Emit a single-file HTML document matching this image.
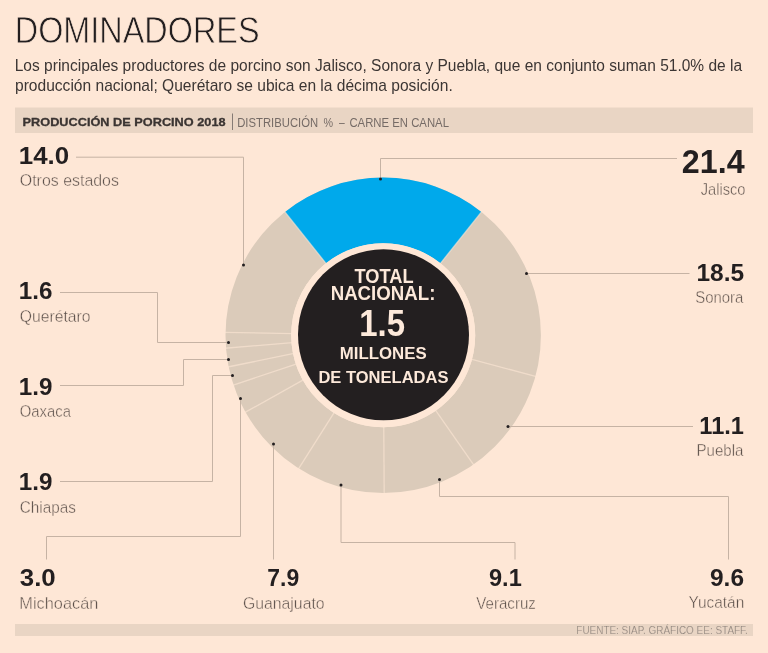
<!DOCTYPE html>
<html lang="es"><head><meta charset="utf-8"><title>Dominadores</title>
<style>
html,body{margin:0;padding:0;background:#fee7d6;}
body{width:768px;height:653px;overflow:hidden;}
svg{display:block;font-family:"Liberation Sans",sans-serif;}
</style></head><body>
<svg width="768" height="653" viewBox="0 0 768 653">
<rect width="768" height="653" fill="#fee7d6"/>
<circle cx="383.2" cy="335.3" r="124.85" fill="none" stroke="#dbcbba" stroke-width="65.69999999999999"/>
<path d="M284.99,211.92A157.7,157.7 0 0 1 481.41,211.92L440.50,263.32A92,92 0 0 0 325.90,263.32Z" fill="#00a9eb"/>
<line x1="326.53" y1="264.10" x2="284.36" y2="211.13" stroke="#fee7d6" stroke-width="1.3" stroke-opacity="0.6"/>
<line x1="439.87" y1="264.10" x2="482.04" y2="211.13" stroke="#fee7d6" stroke-width="1.3" stroke-opacity="0.6"/>
<line x1="471.05" y1="359.04" x2="536.41" y2="376.70" stroke="#fee7d6" stroke-width="1.3" stroke-opacity="0.6"/>
<line x1="435.29" y1="409.92" x2="474.04" y2="465.43" stroke="#fee7d6" stroke-width="1.3" stroke-opacity="0.6"/>
<line x1="383.77" y1="426.30" x2="384.20" y2="494.00" stroke="#fee7d6" stroke-width="1.3" stroke-opacity="0.6"/>
<line x1="334.44" y1="412.13" x2="298.16" y2="469.29" stroke="#fee7d6" stroke-width="1.3" stroke-opacity="0.6"/>
<line x1="303.73" y1="379.64" x2="244.61" y2="412.63" stroke="#fee7d6" stroke-width="1.3" stroke-opacity="0.6"/>
<line x1="296.83" y1="363.96" x2="232.58" y2="385.29" stroke="#fee7d6" stroke-width="1.3" stroke-opacity="0.6"/>
<line x1="294.03" y1="353.47" x2="227.70" y2="366.99" stroke="#fee7d6" stroke-width="1.3" stroke-opacity="0.6"/>
<line x1="292.50" y1="342.72" x2="225.03" y2="348.25" stroke="#fee7d6" stroke-width="1.3" stroke-opacity="0.6"/>
<line x1="292.22" y1="333.58" x2="224.53" y2="332.31" stroke="#fee7d6" stroke-width="1.3" stroke-opacity="0.6"/>
<circle cx="383.2" cy="335.3" r="92" fill="#fee7d6"/>
<circle cx="383.5" cy="334.8" r="85.5" fill="#231f20"/>
<path d="M380.5,179L380.5,158.5L677,158.5" fill="none" stroke="#c6b3a4" stroke-width="1"/>
<circle cx="380.5" cy="179" r="1.5" fill="#231f20"/>
<path d="M526.5,273.5L689.5,273.5" fill="none" stroke="#c6b3a4" stroke-width="1"/>
<circle cx="526.5" cy="273.5" r="1.5" fill="#231f20"/>
<path d="M508,426.5L693,426.5" fill="none" stroke="#c6b3a4" stroke-width="1"/>
<circle cx="508" cy="426.5" r="1.5" fill="#231f20"/>
<path d="M439.5,479.5L439.5,496.5L728.5,496.5L728.5,559.5" fill="none" stroke="#c6b3a4" stroke-width="1"/>
<circle cx="439.5" cy="479.5" r="1.5" fill="#231f20"/>
<path d="M341,485L341,542.5L515,542.5L515,559.5" fill="none" stroke="#c6b3a4" stroke-width="1"/>
<circle cx="341" cy="485" r="1.5" fill="#231f20"/>
<path d="M273.5,444L273.5,559.5" fill="none" stroke="#c6b3a4" stroke-width="1"/>
<circle cx="273.5" cy="444" r="1.5" fill="#231f20"/>
<path d="M240.5,398.5L240.5,536.5L46.5,536.5L46.5,559.5" fill="none" stroke="#c6b3a4" stroke-width="1"/>
<circle cx="240.5" cy="398.5" r="1.5" fill="#231f20"/>
<path d="M232.5,375.5L212.5,375.5L212.5,481.5L60,481.5" fill="none" stroke="#c6b3a4" stroke-width="1"/>
<circle cx="232.5" cy="375.5" r="1.5" fill="#231f20"/>
<path d="M228.5,359.5L183.5,359.5L183.5,385.5L60,385.5" fill="none" stroke="#c6b3a4" stroke-width="1"/>
<circle cx="228.5" cy="359.5" r="1.5" fill="#231f20"/>
<path d="M228.5,342.5L157.5,342.5L157.5,292.5L60,292.5" fill="none" stroke="#c6b3a4" stroke-width="1"/>
<circle cx="228.5" cy="342.5" r="1.5" fill="#231f20"/>
<path d="M243.5,265L243.5,157.2L76,157.2" fill="none" stroke="#c6b3a4" stroke-width="1"/>
<circle cx="243.5" cy="265" r="1.5" fill="#231f20"/>
<rect x="15" y="107.5" width="738" height="25.5" fill="#e9d5c4"/>
<rect x="15" y="624" width="738" height="12" fill="#e9d5c4"/>
<line x1="232.5" y1="113.5" x2="232.5" y2="130" stroke="#857b75" stroke-width="1"/>
<text transform="translate(14.77,43.3) scale(0.8756,1)" font-size="37" font-weight="400" fill="#231f20" stroke="#fee7d6" stroke-width="0.75">DOMINADORES</text>
<text transform="translate(14.74,70.6) scale(0.9587,1)" font-size="16.2" font-weight="400" fill="#3c3634" >Los principales productores de porcino son Jalisco, Sonora y Puebla, que en conjunto suman 51.0% de la</text>
<text transform="translate(15.04,90.6) scale(0.9614,1)" font-size="16.2" font-weight="400" fill="#3c3634" >producción nacional; Querétaro se ubica en la décima posición.</text>
<text transform="translate(22.60,126.4) scale(1.0797,1)" font-size="11.8" font-weight="700" fill="#3a3432" stroke="#3a3432" stroke-width="0.3">PRODUCCIÓN DE PORCINO 2018</text>
<text transform="translate(237.20,126.6) scale(0.8972,1)" font-size="12.6" font-weight="400" fill="#756b66" >DISTRIBUCIÓN</text>
<text transform="translate(323.40,126.6) scale(0.8545,1)" font-size="12.6" font-weight="400" fill="#756b66" >%</text>
<text transform="translate(339.00,126.6) scale(0.8143,1)" font-size="12.6" font-weight="400" fill="#756b66" >–</text>
<text transform="translate(349.40,126.6) scale(0.9008,1)" font-size="12.6" font-weight="400" fill="#756b66" >CARNE EN CANAL</text>
<text transform="translate(576.30,634.4) scale(0.8588,1)" font-size="11.6" font-weight="400" fill="#8b8079" stroke="#e9d5c4" stroke-width="0.2">FUENTE: SIAP. GRÁFICO EE: STAFF.</text>
<text transform="translate(18.76,163.9) scale(1.0437,1)" font-size="24.8" font-weight="700" fill="#231f20" >14.0</text>
<text transform="translate(19.80,186.3) scale(0.9777,1)" font-size="16.3" font-weight="400" fill="#5b4f49" stroke="#fee7d6" stroke-width="0.4">Otros estados</text>
<text transform="translate(18.82,299.4) scale(0.9761,1)" font-size="24.8" font-weight="700" fill="#231f20" >1.6</text>
<text transform="translate(19.80,322) scale(0.9638,1)" font-size="16.3" font-weight="400" fill="#5b4f49" stroke="#fee7d6" stroke-width="0.4">Querétaro</text>
<text transform="translate(18.82,394.6) scale(0.9761,1)" font-size="24.8" font-weight="700" fill="#231f20" >1.9</text>
<text transform="translate(19.80,417) scale(0.9114,1)" font-size="16.3" font-weight="400" fill="#5b4f49" stroke="#fee7d6" stroke-width="0.4">Oaxaca</text>
<text transform="translate(18.82,490.3) scale(0.9761,1)" font-size="24.8" font-weight="700" fill="#231f20" >1.9</text>
<text transform="translate(19.80,512.6) scale(0.9380,1)" font-size="16.3" font-weight="400" fill="#5b4f49" stroke="#fee7d6" stroke-width="0.4">Chiapas</text>
<text transform="translate(19.80,586.4) scale(1.0422,1)" font-size="24.8" font-weight="700" fill="#231f20" >3.0</text>
<text transform="translate(19.30,608.7) scale(1.0029,1)" font-size="16.3" font-weight="400" fill="#5b4f49" stroke="#fee7d6" stroke-width="0.4">Michoacán</text>
<text transform="translate(267.28,586.3) scale(0.9241,1)" font-size="24.8" font-weight="700" fill="#231f20" >7.9</text>
<text transform="translate(243.00,608.9) scale(0.9687,1)" font-size="16.3" font-weight="400" fill="#5b4f49" stroke="#fee7d6" stroke-width="0.4">Guanajuato</text>
<text transform="translate(489.00,586.3) scale(0.9516,1)" font-size="24.8" font-weight="700" fill="#231f20" >9.1</text>
<text transform="translate(476.30,608.8) scale(0.9265,1)" font-size="16.3" font-weight="400" fill="#5b4f49" stroke="#fee7d6" stroke-width="0.4">Veracruz</text>
<text transform="translate(710.00,586.2) scale(0.9857,1)" font-size="24.8" font-weight="700" fill="#231f20" >9.6</text>
<text transform="translate(688.50,608.2) scale(0.9465,1)" font-size="16.3" font-weight="400" fill="#5b4f49" stroke="#fee7d6" stroke-width="0.4">Yucatán</text>
<text transform="translate(681.82,173.2) scale(0.9844,1)" font-size="32.8" font-weight="700" fill="#231f20" >21.4</text>
<text transform="translate(700.70,194.8) scale(0.8992,1)" font-size="16.3" font-weight="400" fill="#5b4f49" stroke="#fee7d6" stroke-width="0.4">Jalisco</text>
<text transform="translate(696.41,280.7) scale(0.9880,1)" font-size="24.8" font-weight="700" fill="#231f20" >18.5</text>
<text transform="translate(695.20,302.8) scale(0.9168,1)" font-size="16.3" font-weight="400" fill="#5b4f49" stroke="#fee7d6" stroke-width="0.4">Sonora</text>
<text transform="translate(699.35,433.5) scale(0.9522,1)" font-size="24.8" font-weight="700" fill="#231f20" >11.1</text>
<text transform="translate(696.58,455.8) scale(0.9241,1)" font-size="16.3" font-weight="400" fill="#5b4f49" stroke="#fee7d6" stroke-width="0.4">Puebla</text>
<text transform="translate(354.50,282.5) scale(0.9304,1)" font-size="19.6" font-weight="700" fill="#fde9da" >TOTAL</text>
<text transform="translate(330.65,300.2) scale(0.9534,1)" font-size="19.6" font-weight="700" fill="#fde9da" >NACIONAL:</text>
<text transform="translate(359.22,335.9) scale(0.8903,1)" font-size="37" font-weight="700" fill="#fde9da" >1.5</text>
<text transform="translate(339.82,359.4) scale(0.9778,1)" font-size="17.2" font-weight="700" fill="#fde9da" >MILLONES</text>
<text transform="translate(318.44,382.8) scale(0.9610,1)" font-size="17.2" font-weight="700" fill="#fde9da" >DE TONELADAS</text>
</svg>
</body></html>
